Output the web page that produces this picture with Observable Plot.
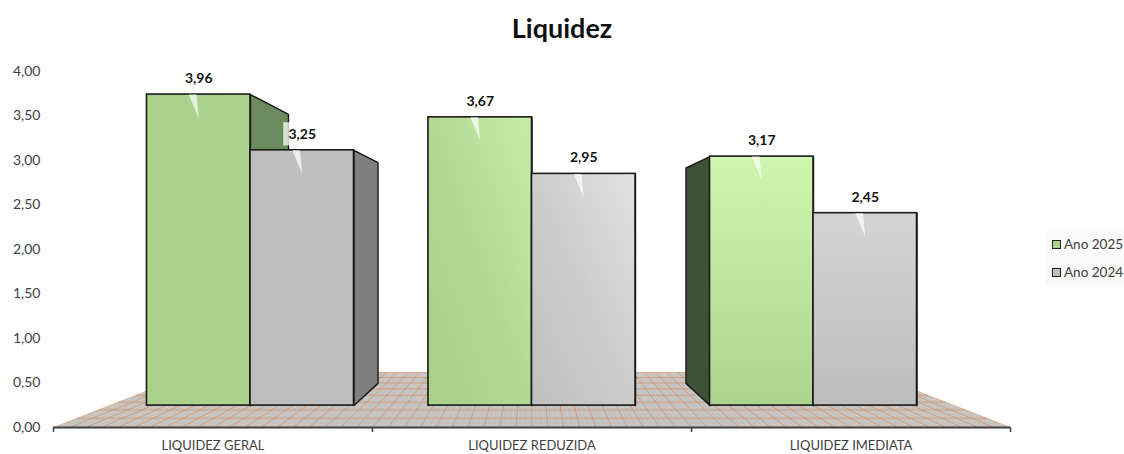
<!DOCTYPE html>
<html lang="pt">
<head>
<meta charset="utf-8">
<script src="https://cdn.jsdelivr.net/npm/d3@7"></script>
<script src="https://cdn.jsdelivr.net/npm/@observablehq/plot@0.6"></script>
<style>
  html, body { margin: 0; padding: 0; background: #fff; width: 1124px; height: 454px; overflow: hidden; }
  body { position: relative; font-family: Lato, "Open Sans", sans-serif; }
  #title { height: 60px; line-height: 55px; text-align: center; font-size: 27px; font-weight: 700; color: #111; }
  #legend { position: absolute; left: 1045px; top: 231px; width: 79px; height: 54px; background: #fafafa; font-size: 13.5px; color: #404040; }
  #legend .row { position: absolute; left: 7px; display: flex; align-items: center; gap: 3px; white-space: nowrap; }
  #legend .sw { width: 7px; height: 7px; border: 1px solid #222; display: inline-block; }
  svg { display: block; }
</style>
</head>
<body>
<svg width="0" height="0" style="position:absolute">
  <defs>
    <linearGradient id="g1" x1="0" y1="0" x2="1" y2="0"><stop offset="0" stop-color="#a9d18c"/><stop offset="1" stop-color="#add48f"/></linearGradient>
    <linearGradient id="g2" x1="0" y1="1" x2="1" y2="0"><stop offset="0" stop-color="#a8cf8b"/><stop offset=".5" stop-color="#b2d994"/><stop offset="1" stop-color="#c8eda8"/></linearGradient>
    <linearGradient id="g3" x1="0" y1="0" x2="0" y2="1"><stop offset="0" stop-color="#cff6ae"/><stop offset=".5" stop-color="#bfe69f"/><stop offset="1" stop-color="#add48e"/></linearGradient>
    <linearGradient id="h1" x1="0" y1="0" x2="0" y2="1"><stop offset="0" stop-color="#bfbfbf"/><stop offset="1" stop-color="#bebebe"/></linearGradient>
    <linearGradient id="h2" x1="0" y1="1" x2="1" y2="0"><stop offset="0" stop-color="#bfbfbf"/><stop offset=".5" stop-color="#cdcdcd"/><stop offset="1" stop-color="#e2e2e2"/></linearGradient>
    <linearGradient id="h3" x1="0" y1="0" x2="0" y2="1"><stop offset="0" stop-color="#d4d4d4"/><stop offset="1" stop-color="#bdbdbd"/></linearGradient>
  </defs>
</svg>
<div id="title">Liquidez</div>
<div id="chart"></div>
<div id="legend">
  <div class="row" style="top:5px"><span class="sw" style="background:#a9d18c"></span>Ano 2025</div>
  <div class="row" style="top:33px"><span class="sw" style="background:#bfbfbf"></span>Ano 2024</div>
</div>
<script>
const categories = ["LIQUIDEZ GERAL", "LIQUIDEZ REDUZIDA", "LIQUIDEZ IMEDIATA"];
const ano2025 = [3.96, 3.67, 3.17];
const ano2024 = [3.25, 2.95, 2.45];
const yTicks = [0, 0.5, 1, 1.5, 2, 2.5, 3, 3.5, 4];
const fills2025 = ["url(#g1)", "url(#g2)", "url(#g3)"];
const fills2024 = ["url(#h1)", "url(#h2)", "url(#h3)"];
const sides2025 = ["#6c8b5c", "#566f49", "#3f5237"];
const sides2024 = ["#7f7f7f", "#7f7f7f", "#7f7f7f"];

// Perspective of the 3-D plot, in data units (x: category axis, y: value axis)
const vx = 1.5, vy = 2.095;
const depthFront = 0.8825, depthBack = 0.7634, depthFloor = 0.705;
const halfBar = 0.3677;
const px = (x, d) => vx + (x - vx) * d;
const py = (v, d) => vy + (v - vy) * d;
const fmt = v => v.toFixed(2).replace(".", ",");

const bars = categories.flatMap((c, i) => [
  {cat: i, x0: i + 0.5 - halfBar, x1: i + 0.5, value: ano2025[i], fill: fills2025[i], side: sides2025[i]},
  {cat: i, x0: i + 0.5, x1: i + 0.5 + halfBar, value: ano2024[i], fill: fills2024[i], side: sides2024[i]}
]);

const closed = pts => [...pts, pts[0]];
const poly = (pts, o) => Plot.line(closed(pts), {x: "0", y: "1", ...o});
const sideFace = (b, x) => closed([
  [px(x, depthFront), py(b.value, depthFront)],
  [px(x, depthBack), py(b.value, depthBack)],
  [px(x, depthBack), py(0, depthBack)],
  [px(x, depthFront), py(0, depthFront)]
]);

// Floor and its woven texture
const floorPts = [[px(0, 1), py(0, 1)], [px(3, 1), py(0, 1)], [px(3, depthFloor), py(0, depthFloor)], [px(0, depthFloor), py(0, depthFloor)]];
const radial = (step) => d3.range(0, 3 + 1e-6, step).map(x => ({x1: px(x, 1), y1: py(0, 1), x2: px(x, depthFloor), y2: py(0, depthFloor)}));
const rowDepths = n => d3.range(0, n + 1).map(k => 1 / (1 + k / n * (1 / depthFloor - 1)));
const rows = n => rowDepths(n).map(d => ({x1: px(0, d), y1: py(0, d), x2: px(3, d), y2: py(0, d)}));
const linkOpts = (stroke, strokeWidth, strokeOpacity) => ({x1: "x1", y1: "y1", x2: "x2", y2: "y2", stroke, strokeWidth, strokeOpacity});

const wedges = bars.map(b => {
  const c = px((b.x0 + b.x1) / 2, depthFront), t = py(b.value, depthFront);
  return [[c - 0.031, t], [c - 0.007, t], [c, t - 0.265]];
});

const labelBox = bars.map(b => {
  const c = px((b.x0 + b.x1) / 2, depthFront), t = py(b.value, depthFront);
  return {x1: c - 0.058, x2: c + 0.058, y1: t + 0.05, y2: t + 0.31};
});

const plot = Plot.plot({
  width: 1124,
  height: 394,
  marginLeft: 53,
  marginRight: 114,
  marginTop: 11,
  marginBottom: 27,
  style: {fontFamily: "Lato, 'Open Sans', sans-serif", background: "transparent"},
  x: {type: "linear", domain: [0, 3], label: null},
  y: {type: "linear", domain: [0, 4], label: null},
  marks: [
    poly(floorPts, {fill: "#c3bfbc", stroke: "none"}),
    Plot.link(rows(24), linkOpts("#ffffff", 0.5, 0.25)),
    Plot.link(radial(0.0167), linkOpts("#ffffff", 0.5, 0.2)),
    Plot.link(rows(8), linkOpts("#d4783f", 0.8, 0.6)),
    Plot.link(radial(0.05), linkOpts("#d4783f", 0.8, 0.6)),
    ...bars.flatMap(b => [b.x0, b.x1].map(x =>
      Plot.line(sideFace(b, x), {x: "0", y: "1", fill: b.side, stroke: "#1a1a1a", strokeWidth: 1.4, strokeLinejoin: "round"})
    )),
    ...bars.map(b => Plot.rect([b], {
      x1: d => px(d.x0, depthFront), x2: d => px(d.x1, depthFront),
      y1: d => py(0, depthFront), y2: d => py(d.value, depthFront),
      fill: b.fill, stroke: "#1a1a1a", strokeWidth: 1.6
    })),
    ...wedges.map(w => poly(w, {fill: "#ffffff", fillOpacity: 0.72, stroke: "none"})),
    Plot.rect(labelBox, {x1: "x1", x2: "x2", y1: "y1", y2: "y2", fill: "#ffffff", fillOpacity: 0.75}),
    Plot.text(bars, {
      x: b => px((b.x0 + b.x1) / 2, depthFront), y: b => py(b.value, depthFront),
      text: b => fmt(b.value), dy: -16, fontSize: 14, fontWeight: 700, fill: "#111"
    }),
    Plot.ruleY([0], {stroke: "#404040", strokeWidth: 2}),
    Plot.axisY({ticks: yTicks, tickSize: 0, tickPadding: 13, tickFormat: fmt, fontSize: 14, color: "#404040", label: null}),
    Plot.axisX({ticks: [0, 1, 2, 3], tickSize: 5, tickFormat: () => "", strokeWidth: 1.5, stroke: "#404040", label: null}),
    Plot.axisX({ticks: [0.5, 1.5, 2.5], tickSize: 0, tickPadding: 13, tickFormat: t => categories[Math.floor(t)], fontSize: 13, color: "#404040", label: null})
  ]
});
document.getElementById("chart").append(plot);
</script>
</body>
</html>
